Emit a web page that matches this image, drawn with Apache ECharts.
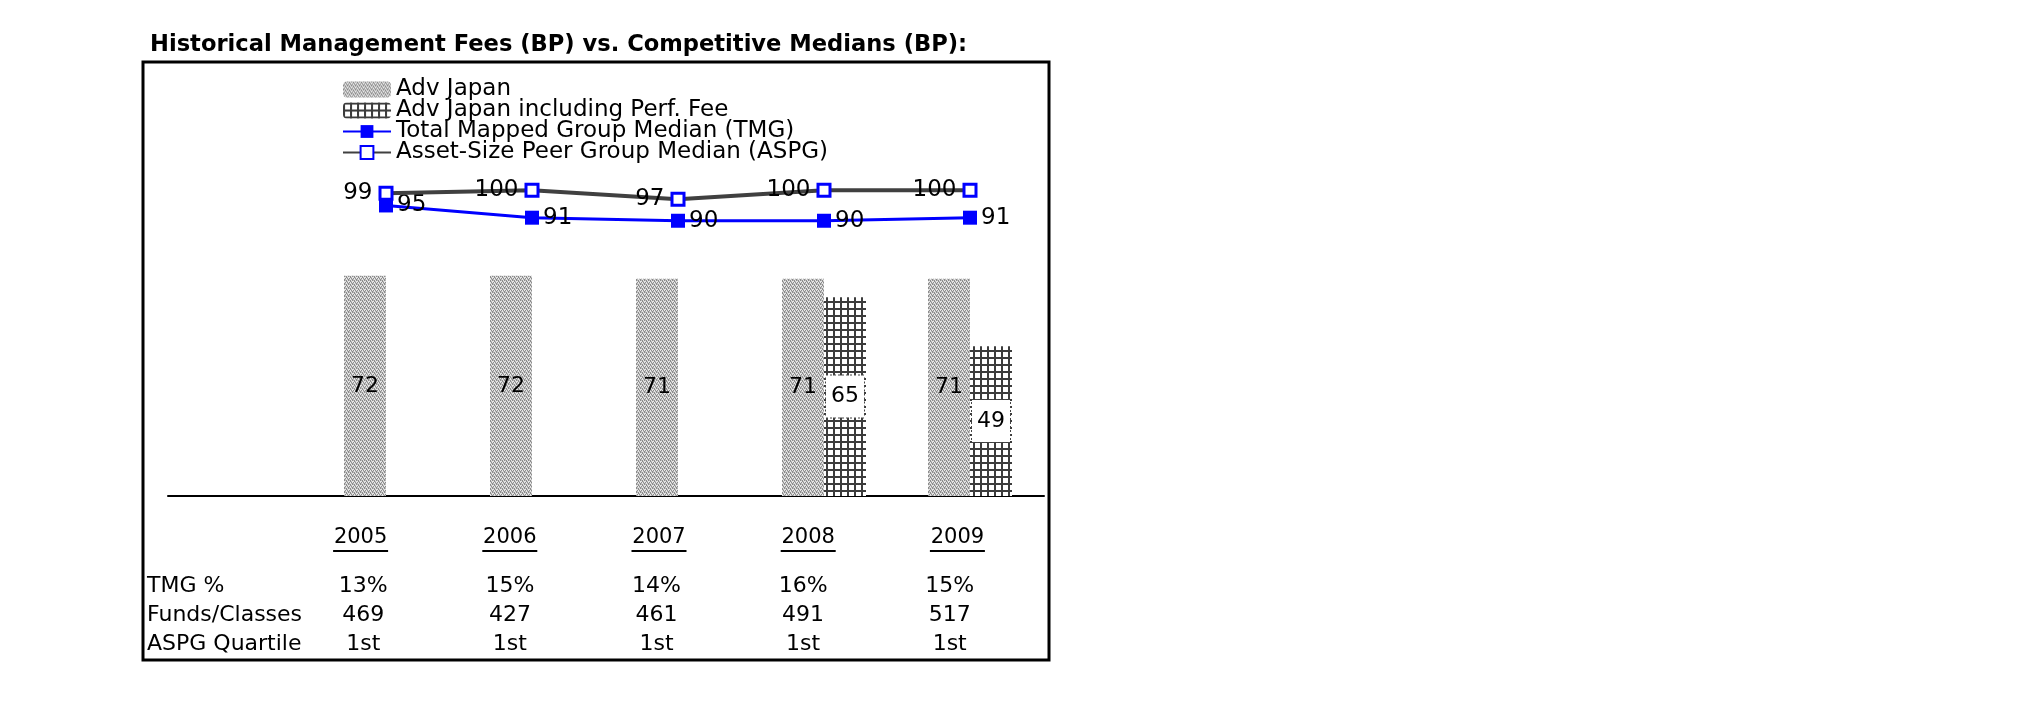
<!DOCTYPE html>
<html>
<head>
<meta charset="utf-8">
<script src="https://cdn.jsdelivr.net/npm/echarts@6/dist/echarts.min.js"></script>
<style>
html,body{margin:0;padding:0;background:#fff;}
#chart{width:2025px;height:717px;}
</style>
</head>
<body>
<div id="chart"></div>
<script>
const years = ['2005', '2006', '2007', '2008', '2009'];
const advJapan = [72, 72, 71, 71, 71];
const advJapanPerf = [null, null, null, 65, 49];
const tmgMedian = [95, 91, 90, 90, 91];
const aspgMedian = [99, 100, 97, 100, 100];
const tmgPct = ['13%', '15%', '14%', '16%', '15%'];
const fundsClasses = [469, 427, 461, 491, 517];
const aspgQuartile = ['1st', '1st', '1st', '1st', '1st'];
const rowLabels = ['TMG %', 'Funds/Classes', 'ASPG Quartile'];

const FONT = 'DejaVu Sans';

function makeDither() {
  const c = document.createElement('canvas');
  c.width = 4; c.height = 4;
  const g = c.getContext('2d');
  g.fillStyle = '#e6e6e6'; g.fillRect(0, 0, 4, 4);
  g.fillStyle = '#8c8c8c';
  [[0,0],[2,0],[1,2],[3,2],[0,3],[2,1]].forEach(p => g.fillRect(p[0], p[1], 1, 1));
  g.fillStyle = '#bcbcbc';
  [[1,0],[3,1],[1,3],[3,3]].forEach(p => g.fillRect(p[0], p[1], 1, 1));
  return c;
}
function makeGrid() {
  const c = document.createElement('canvas');
  c.width = 7; c.height = 7;
  const g = c.getContext('2d');
  g.fillStyle = '#ffffff'; g.fillRect(0, 0, 7, 7);
  g.fillStyle = '#3c3c3c';
  g.fillRect(0, 0, 2, 7);
  g.fillRect(0, 0, 7, 2);
  return c;
}

const chart = echarts.init(document.getElementById('chart'), null, {renderer: 'canvas'});

const option = {
  backgroundColor: '#ffffff',
  animation: false,
  textStyle: {fontFamily: FONT},
  title: [
    {
      text: 'Historical Management Fees (BP) vs. Competitive Medians (BP):',
      left: 150, top: 34, padding: 0,
      textStyle: {fontFamily: FONT, fontWeight: 'bold', fontSize: 22.6, color: '#000'}
    },
    {
      text: rowLabels.join('\n'),
      left: 147, top: 572, padding: 0,
      textStyle: {fontFamily: FONT, fontWeight: 'normal', fontSize: 22, lineHeight: 29, color: '#000'}
    }
  ],
  legend: {
    orient: 'vertical',
    left: 342, top: 78,
    itemGap: -2,
    itemWidth: 48, itemHeight: 16,
    padding: 0,
    textStyle: {fontFamily: FONT, fontSize: 23, lineHeight: 21, color: '#000', padding: [0, 0, 0, 0]},
    data: ['Adv Japan', 'Adv Japan including Perf. Fee', 'Total Mapped Group Median (TMG)', 'Asset-Size Peer Group Median (ASPG)']
  },
  grid: [
    {left: 313, right: 982, top: 129, bottom: 221},
    {left: 168, right: 981, top: 129, bottom: 221},
    {left: 286, right: 993, top: 500, height: 1},
    {left: 290, right: 1002, top: 500, height: 1}
  ],
  xAxis: [
    {type: 'category', gridIndex: 0, data: years, axisLine: {show: false}, axisTick: {show: false}, axisLabel: {show: false}},
    {type: 'category', gridIndex: 1, data: [''], axisLine: {show: true, lineStyle: {color: '#000', width: 2}}, axisTick: {show: false}, axisLabel: {show: false}},
    {
      type: 'category', gridIndex: 2, data: years,
      axisLine: {show: false}, axisTick: {show: false},
      axisLabel: {
        interval: 0, margin: 24, align: 'center', verticalAlign: 'top',
        formatter: function (v) {
          return '{y|' + v + '}\n{u| }';
        },
        rich: {
          y: {fontFamily: FONT, fontSize: 21, lineHeight: 25, color: '#000'},
          u: {width: 55, height: 2, lineHeight: 2, fontSize: 1, backgroundColor: '#000'}
        }
      }
    },
    {
      type: 'category', gridIndex: 3, data: years,
      axisLine: {show: false}, axisTick: {show: false},
      axisLabel: {
        interval: 0, margin: 71, align: 'center', verticalAlign: 'top',
        formatter: function (v, i) {
          return tmgPct[i] + '\n' + fundsClasses[i] + '\n' + aspgQuartile[i];
        },
        fontFamily: FONT, fontSize: 22, lineHeight: 29, color: '#000'
      }
    }
  ],
  yAxis: [
    {type: 'value', gridIndex: 0, min: 0, max: 120, show: false, splitLine: {show: false}},
    {type: 'value', gridIndex: 1, min: 0, max: 120, show: false, splitLine: {show: false}},
    {type: 'value', gridIndex: 2, show: false, splitLine: {show: false}},
    {type: 'value', gridIndex: 3, show: false, splitLine: {show: false}}
  ],
  series: [
    {
      name: 'Adv Japan', type: 'bar', xAxisIndex: 0, yAxisIndex: 0,
      data: advJapan, barWidth: 42, barGap: '0%',
      itemStyle: {color: {image: makeDither(), repeat: 'repeat'}},
      label: {show: true, position: 'inside', color: '#000', fontFamily: FONT, fontSize: 22}
    },
    {
      name: 'Adv Japan including Perf. Fee', type: 'bar', xAxisIndex: 0, yAxisIndex: 0,
      data: advJapanPerf, barWidth: 42, barGap: '0%',
      itemStyle: {color: {image: makeGrid(), repeat: 'repeat'}},
      label: {
        show: true, position: 'inside', color: '#000', fontFamily: FONT, fontSize: 22,
        backgroundColor: '#fff', borderColor: '#444', borderWidth: 1, borderType: 'dotted',
        width: 38, align: 'center', padding: [10, 0, 10, 0], lineHeight: 22
      }
    },
    {
      name: 'Total Mapped Group Median (TMG)', type: 'line', xAxisIndex: 0, yAxisIndex: 0,
      data: tmgMedian, symbol: 'rect', symbolSize: 14, z: 5,
      lineStyle: {color: '#0000ff', width: 3},
      itemStyle: {color: '#0000ff'},
      label: {show: true, position: 'right', distance: 4, color: '#000', fontFamily: FONT, fontSize: 23}
    },
    {
      name: 'Asset-Size Peer Group Median (ASPG)', type: 'line', xAxisIndex: 0, yAxisIndex: 0,
      data: aspgMedian, symbol: 'rect', symbolSize: 12, z: 6,
      lineStyle: {color: '#404040', width: 4},
      itemStyle: {color: '#ffffff', borderColor: '#0000ff', borderWidth: 3},
      label: {show: true, position: 'left', distance: 6, color: '#000', fontFamily: FONT, fontSize: 23}
    }
  ],
  graphic: [
    {type: 'rect', shape: {x: 143, y: 62, width: 906, height: 598}, style: {fill: 'none', stroke: '#000', lineWidth: 3}, silent: true, z: 100}
  ]
};
chart.setOption(option);
</script>
</body>
</html>
